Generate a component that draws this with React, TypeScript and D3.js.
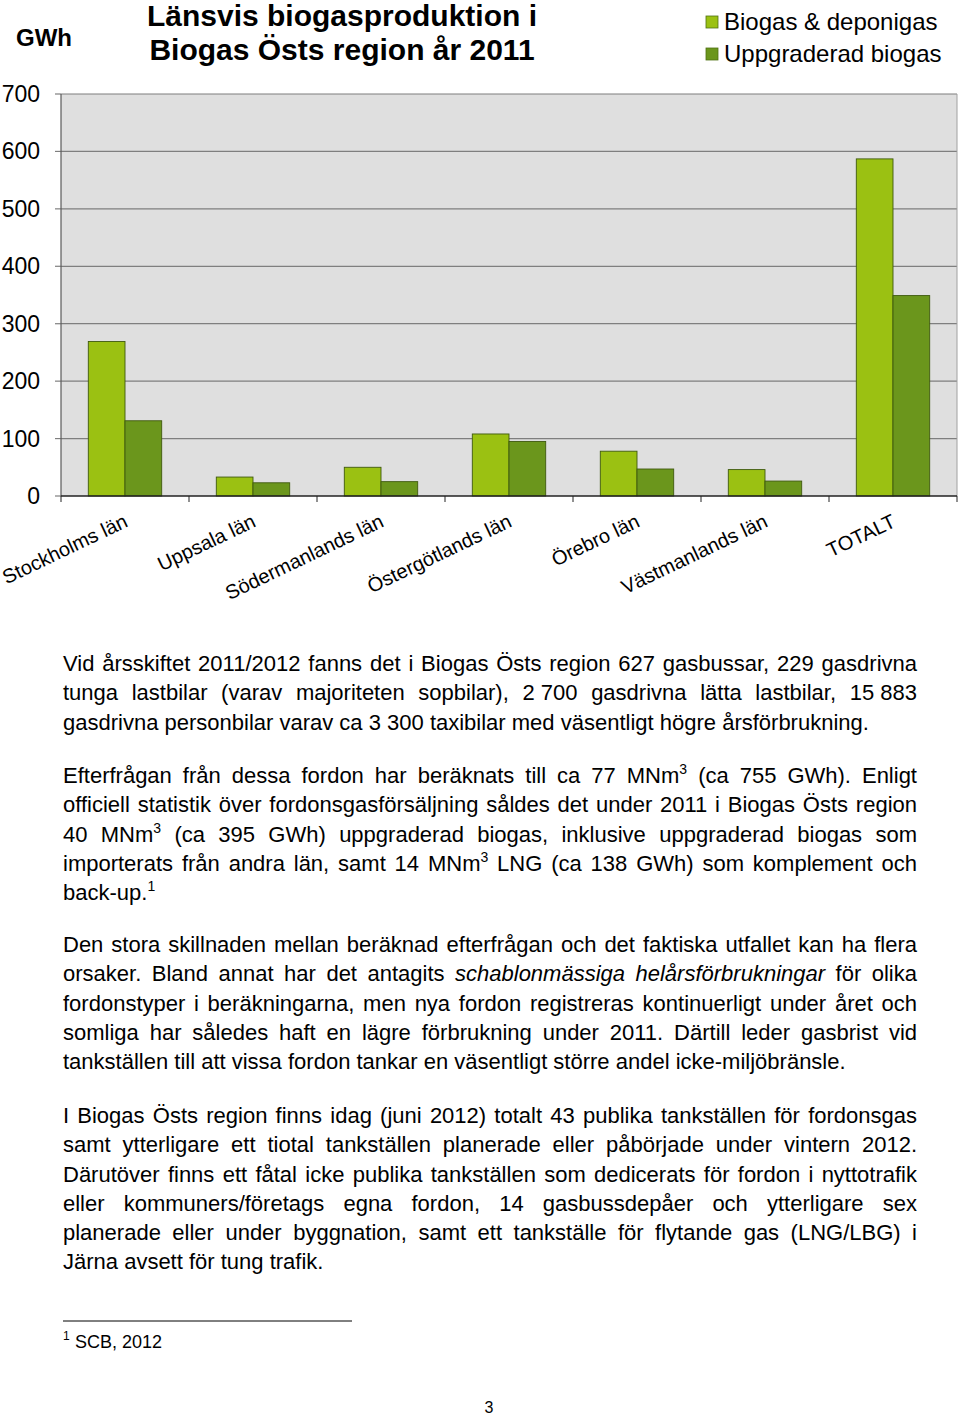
import React, { useMemo } from "react";
import * as d3 from "d3";

const categories = [
  "Stockholms län",
  "Uppsala län",
  "Södermanlands län",
  "Östergötlands län",
  "Örebro län",
  "Västmanlands län",
  "TOTALT",
];
const biogasDeponigas = [269, 33, 50, 108, 78, 46, 587];
const uppgraderadBiogas = [131, 23, 25, 95, 47, 26, 349];
const yTicks = [0, 100, 200, 300, 400, 500, 600, 700];
const seriesNames = ["Biogas & deponigas", "Uppgraderad biogas"];
const seriesColors = ["#9bc112", "#6b961c"];
const titleLines = ["Länsvis biogasproduktion i", "Biogas Östs region år 2011"];
const unitLabel = "GWh";

const paragraphs: string[][] = [
  [
    "Vid årsskiftet 2011/2012 fanns det i Biogas Östs region 627 gasbussar, 229 gasdrivna",
    "tunga lastbilar (varav majoriteten sopbilar), 2\u00a0700 gasdrivna lätta lastbilar, 15\u00a0883",
    "gasdrivna personbilar varav ca 3\u00a0300 taxibilar med väsentligt högre årsförbrukning.",
  ],
  [
    "Efterfrågan från dessa fordon har beräknats till ca 77 MNm^3 (ca 755 GWh). Enligt",
    "officiell statistik över fordonsgasförsäljning såldes det under 2011 i Biogas Östs region",
    "40 MNm^3 (ca 395 GWh) uppgraderad biogas, inklusive uppgraderad biogas som",
    "importerats från andra län, samt 14 MNm^3 LNG (ca 138 GWh) som komplement och",
    "back-up.^1",
  ],
  [
    "Den stora skillnaden mellan beräknad efterfrågan och det faktiska utfallet kan ha flera",
    "orsaker. Bland annat har det antagits *schablonmässiga helårsförbrukningar* för olika",
    "fordonstyper i beräkningarna, men nya fordon registreras kontinuerligt under året och",
    "somliga har således haft en lägre förbrukning under 2011. Därtill leder gasbrist vid",
    "tankställen till att vissa fordon tankar en väsentligt större andel icke-miljöbränsle.",
  ],
  [
    "I Biogas Östs region finns idag (juni 2012) totalt 43 publika tankställen för fordonsgas",
    "samt ytterligare ett tiotal tankställen planerade eller påbörjade under vintern 2012.",
    "Därutöver finns ett fåtal icke publika tankställen som dedicerats för fordon i nyttotrafik",
    "eller kommuners/företags egna fordon, 14 gasbussdepåer och ytterligare sex",
    "planerade eller under byggnation, samt ett tankställe för flytande gas (LNG/LBG) i",
    "Järna avsett för tung trafik.",
  ],
];
const footnoteText = "SCB, 2012";
const footnoteMark = "1";
const pageNumber = "3";

const FONT = "'Liberation Sans', Arial, Helvetica, sans-serif";
const BODY_SIZE = 22;
const SUP_SIZE = 14;

type Word = { main: string; sup: string; italic: boolean; w: number; x: number; scale: number };

function layoutParagraphs(left: number, right: number, size: number, supSize: number) {
  const canvas = document.createElement("canvas");
  const ctx = canvas.getContext("2d")!;
  const measure = (t: string, s: number, it: boolean) => {
    ctx.font = `${it ? "italic " : ""}${s}px ${FONT}`;
    return ctx.measureText(t).width;
  };
  const spaceW = measure(" ", size, false);
  return paragraphs.map((lines) => {
    let italic = false;
    return lines.map((line, li) => {
      const words: Word[] = line.split(" ").map((tok) => {
        let t = tok;
        let it = italic;
        if (t.startsWith("*")) {
          it = true;
          italic = true;
          t = t.slice(1);
        }
        if (t.endsWith("*")) {
          t = t.slice(0, -1);
          italic = false;
        }
        const [main, sup = ""] = t.split("^");
        const w = measure(main, size, it) + (sup ? measure(sup, supSize, false) : 0);
        return { main, sup, italic: it, w, x: 0, scale: 1 };
      });
      const justify = li < lines.length - 1;
      const total = d3.sum(words, (d) => d.w);
      const minGap = spaceW * 0.6;
      let gap = justify && words.length > 1 ? (right - left - total) / (words.length - 1) : spaceW;
      let scale = 1;
      if (gap < minGap) {
        // squeeze words slightly if natural width is too long
        scale = (right - left - minGap * (words.length - 1)) / total;
        gap = minGap;
      }
      let x = left;
      words.forEach((wd) => {
        wd.x = x;
        wd.scale = scale;
        x += wd.w * scale + gap;
      });
      return words;
    });
  });
}

export default function App() {
  const W = 960;
  const H = 1415;
  const plotLeft = 61;
  const plotRight = 957;
  const plotTop = 94;
  const plotBottom = 496;

  const x = d3.scaleBand<string>().domain(categories).range([plotLeft, plotRight]).padding(0);
  const xi = d3
    .scaleBand<number>()
    .domain([0, 1])
    .range([0, x.bandwidth()])
    .paddingInner(0)
    .paddingOuter(0.744);
  const y = d3.scaleLinear().domain([0, 700]).range([plotBottom, plotTop]);

  const series = [biogasDeponigas, uppgraderadBiogas];

  const textLayout = useMemo(() => layoutParagraphs(63, 917, BODY_SIZE, SUP_SIZE), []);
  const paraStarts = [671, 783, 952, 1123];
  const lineStep = 29.25;

  return (
    <svg
      width={W}
      height={H}
      viewBox={`0 0 ${W} ${H}`}
      style={{ position: "absolute", left: 0, top: 0, background: "#fff" }}
      fontFamily={FONT}
    >
      <rect x={0} y={0} width={W} height={H} fill="#fff" />
      {/* unit */}
      <text x={16} y={46} fontSize={24} fontWeight="bold" fill="#000">
        {unitLabel}
      </text>
      {/* title */}
      {titleLines.map((t, i) => (
        <text key={i} x={342} y={26 + i * 34} fontSize={30} fontWeight="bold" textAnchor="middle" fill="#000">
          {t}
        </text>
      ))}
      {/* legend */}
      {seriesNames.map((n, i) => (
        <g key={n} transform={`translate(706, ${16 + i * 32})`}>
          <rect x={0} y={0} width={12} height={12} fill={seriesColors[i]} stroke="#4f7012" strokeWidth={0.8} />
          <text x={18} y={14} fontSize={24} fill="#000">
            {n}
          </text>
        </g>
      ))}
      {/* plot area */}
      <rect x={plotLeft} y={plotTop} width={plotRight - plotLeft} height={plotBottom - plotTop} fill="#dfdfdf" />
      {yTicks.map((t) => (
        <g key={t}>
          {t > 0 && (
            <line x1={plotLeft} x2={plotRight} y1={y(t)} y2={y(t)} stroke="#7f7f7f" strokeWidth={1.2} />
          )}
          <line x1={plotLeft - 6} x2={plotLeft} y1={y(t)} y2={y(t)} stroke="#7f7f7f" strokeWidth={1.2} />
          <text x={40} y={y(t) + 8} fontSize={23} textAnchor="end" fill="#000">
            {t}
          </text>
        </g>
      ))}
      <line x1={plotRight} x2={plotRight} y1={plotTop} y2={plotBottom} stroke="#a0a0a0" strokeWidth={1} />
      {/* bars */}
      {categories.map((c, ci) => (
        <g key={c} transform={`translate(${x(c)},0)`}>
          {series.map((s, si) => (
            <rect
              key={si}
              x={xi(si)}
              y={y(s[ci])}
              width={xi.bandwidth()}
              height={y(0) - y(s[ci])}
              fill={seriesColors[si]}
              stroke="#3f5a0e"
              strokeWidth={0.9}
            />
          ))}
        </g>
      ))}
      {/* axes */}
      <line x1={plotLeft} x2={plotLeft} y1={plotTop} y2={plotBottom} stroke="#5a5a5a" strokeWidth={1.2} />
      <line x1={plotLeft} x2={plotRight} y1={plotBottom} y2={plotBottom} stroke="#222" strokeWidth={1.3} />
      {categories.map((c) => (
        <line
          key={"tk" + c}
          x1={x(c) as number}
          x2={x(c) as number}
          y1={plotBottom}
          y2={plotBottom + 6}
          stroke="#222"
          strokeWidth={1}
        />
      ))}
      <line x1={plotRight} x2={plotRight} y1={plotBottom} y2={plotBottom + 6} stroke="#222" strokeWidth={1} />
      {categories.map((c) => {
        const cx = (x(c) as number) + x.bandwidth() / 2 + 4;
        const cy = 526;
        return (
          <text
            key={"lb" + c}
            x={cx}
            y={cy}
            fontSize={20}
            textAnchor="end"
            transform={`rotate(-25.5, ${cx}, ${cy})`}
            fill="#000"
          >
            {c}
          </text>
        );
      })}
      {/* body text */}
      {textLayout.map((lines, pi) =>
        lines.map((words, li) => {
          const by = paraStarts[pi] + li * lineStep;
          return (
            <g key={`p${pi}l${li}`}>
              {words.map((wd, wi) => (
                <text
                  key={wi}
                  x={wd.x}
                  y={by}
                  fontSize={BODY_SIZE}
                  fill="#000"
                  fontStyle={wd.italic ? "italic" : "normal"}
                  textLength={wd.scale < 1 ? wd.w * wd.scale : undefined}
                  lengthAdjust={wd.scale < 1 ? "spacingAndGlyphs" : undefined}
                >
                  {wd.main}
                  {wd.sup && (
                    <tspan fontSize={SUP_SIZE} dy={-9} fontStyle="normal">
                      {wd.sup}
                    </tspan>
                  )}
                </text>
              ))}
            </g>
          );
        })
      )}
      {/* footnote */}
      <line x1={63} x2={352} y1={1321} y2={1321} stroke="#000" strokeWidth={1} />
      <text x={63} y={1340} fontSize={12} fill="#000">
        {footnoteMark}
      </text>
      <text x={75} y={1348} fontSize={18} fill="#000">
        {footnoteText}
      </text>
      <text x={489} y={1413} fontSize={16} textAnchor="middle" fill="#000">
        {pageNumber}
      </text>
    </svg>
  );
}
